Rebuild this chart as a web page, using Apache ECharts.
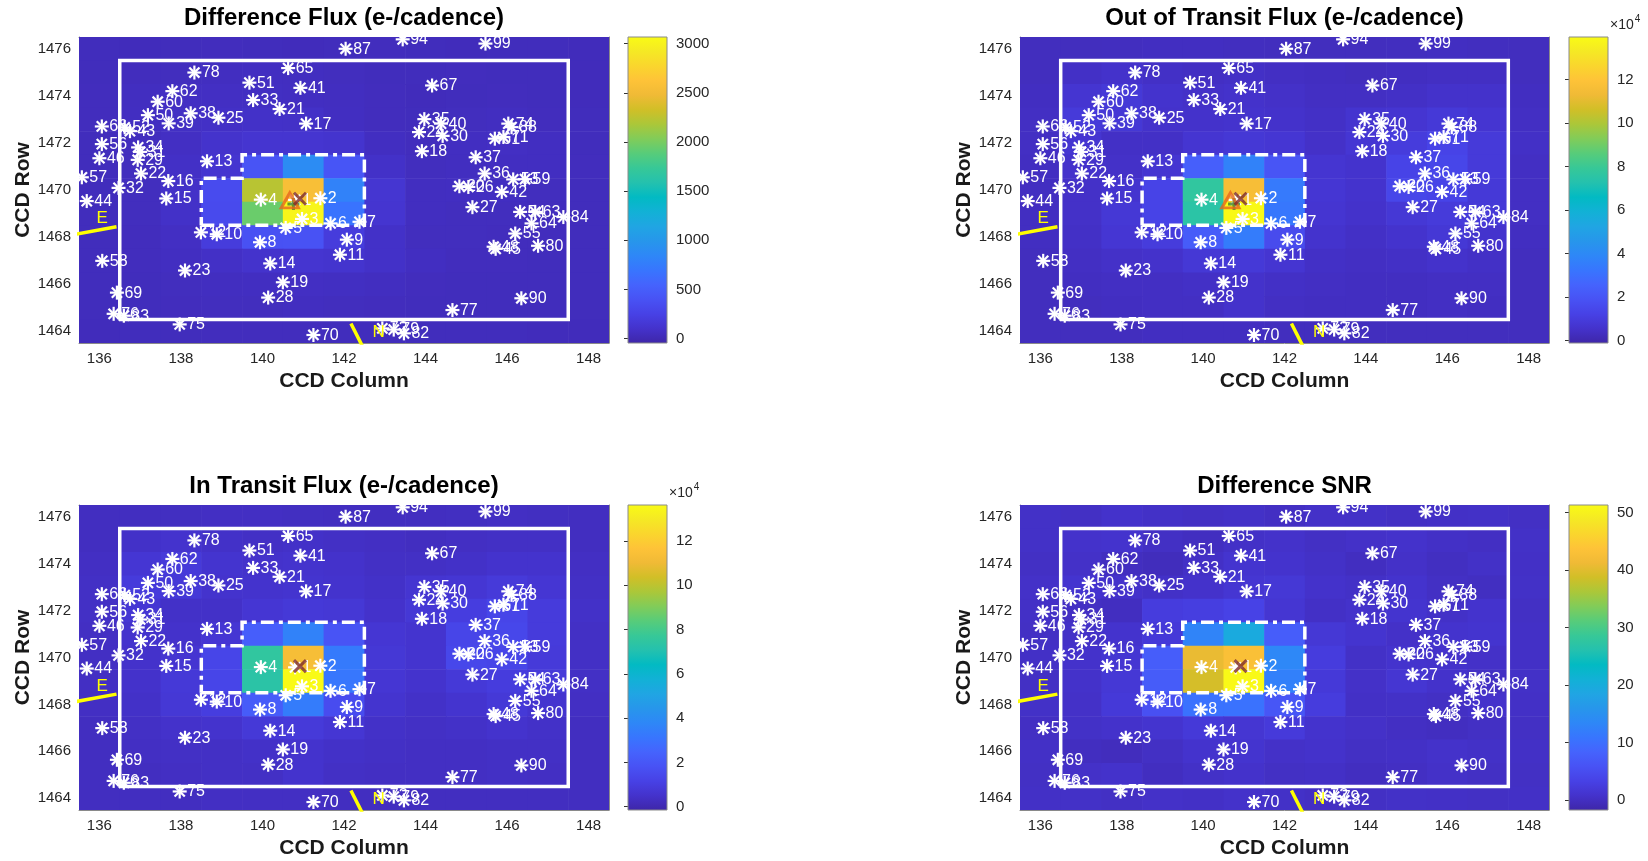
<!DOCTYPE html>
<html><head><meta charset="utf-8">
<script src="https://cdn.jsdelivr.net/npm/echarts@6/dist/echarts.min.js"></script>
<style>html,body{margin:0;padding:0;background:#fff}#c{width:1648px;height:861px}</style>
</head><body><div id="c"></div>
<script>
// ---------------- DATA ----------------
const colTicks = [136, 138, 140, 142, 144, 146, 148];
const rowTicks = [1464, 1466, 1468, 1470, 1472, 1474, 1476];
const pixelCols = [136,137,138,139,140,141,142,143,144,145,146,147,148];
const pixelRows = [1476,1475,1474,1473,1472,1471,1470,1469,1468,1467,1466,1465,1464];

// Difference flux (e-/cadence), rows top (1476) to bottom (1464)
const diffFlux = [
 [40,35,40,45,40,35,40,45,40,35,40,40,35],
 [40,45,50,55,60,55,50,40,40,45,40,40,35],
 [45,55,70,70,65,60,55,45,35,40,45,40,35],
 [45,60,75,80,90,85,60,45,40,50,55,45,40],
 [40,50,70,110,130,130,120,60,45,60,70,60,40],
 [40,50,80,130,420,890,430,90,50,55,60,60,45],
 [40,50,90,340,2230,2560,800,140,55,60,60,50,40],
 [40,50,90,330,1950,3020,680,130,55,50,50,45,40],
 [40,45,70,200,390,400,200,90,50,50,45,45,40],
 [40,45,60,80,110,130,120,90,60,45,45,40,40],
 [40,40,50,55,60,70,65,55,45,40,40,40,40],
 [40,40,45,50,50,55,50,45,40,40,40,40,40],
 [35,40,40,45,45,45,40,40,40,40,40,35,35]
];
// Out of transit flux (x1e4 e-/cadence)
const outFlux = [
 [.30,.30,.32,.35,.35,.32,.30,.30,.30,.32,.35,.32,.30],
 [.30,.45,.55,.45,.40,.45,.40,.35,.30,.35,.40,.40,.30],
 [.35,.70,.85,.60,.50,.55,.50,.40,.40,.45,.55,.55,.35],
 [.40,.90,.80,.55,.55,.60,.55,.45,.65,.70,.85,.70,.40],
 [.40,.70,.45,.45,.70,.80,.75,.50,.75,1.0,1.3,.90,.45],
 [.35,.55,.50,.70,2.4,3.7,2.0,.70,.60,1.3,1.4,.90,.40],
 [.35,.50,.65,1.3,7.7,11.6,3.4,.75,.60,1.4,1.3,.85,.40],
 [.35,.50,.80,1.3,7.5,13.9,3.3,.70,.55,.80,.95,.85,.40],
 [.35,.45,.75,1.0,2.3,3.5,1.6,.60,.45,.60,.80,.60,.35],
 [.30,.40,.50,.55,.80,.85,.70,.45,.40,.45,.55,.45,.30],
 [.30,.35,.40,.40,.45,.55,.45,.40,.35,.35,.40,.40,.30],
 [.30,.30,.35,.40,.40,.55,.40,.35,.35,.35,.40,.35,.30],
 [.30,.30,.30,.35,.35,.35,.30,.30,.30,.30,.30,.30,.30]
];
// In transit flux (x1e4 e-/cadence)
const inFlux = [
 [.30,.30,.32,.35,.35,.32,.30,.30,.30,.32,.35,.32,.30],
 [.30,.45,.55,.45,.40,.45,.40,.35,.30,.35,.40,.40,.30],
 [.35,.70,.85,.60,.50,.55,.50,.40,.40,.45,.55,.55,.35],
 [.40,.90,.80,.55,.55,.60,.55,.45,.65,.70,.85,.70,.40],
 [.40,.70,.45,.45,.70,.80,.75,.50,.75,1.0,1.3,.90,.45],
 [.35,.55,.50,.70,2.3,3.6,1.9,.70,.60,1.3,1.4,.90,.40],
 [.35,.50,.65,1.3,7.5,11.3,3.3,.75,.60,1.4,1.3,.85,.40],
 [.35,.50,.80,1.3,7.3,13.6,3.2,.70,.55,.80,.95,.85,.40],
 [.35,.45,.75,1.0,2.2,3.4,1.6,.60,.45,.60,.80,.60,.35],
 [.30,.40,.50,.55,.80,.85,.70,.45,.40,.45,.55,.45,.30],
 [.30,.35,.40,.40,.45,.55,.45,.40,.35,.35,.40,.40,.30],
 [.30,.30,.35,.40,.40,.55,.40,.35,.35,.35,.40,.35,.30],
 [.30,.30,.30,.35,.35,.35,.30,.30,.30,.30,.30,.30,.30]
];
// Difference SNR
const diffSnr = [
 [0.5,0.3,0.8,0.5,0.3,0.5,0.2,0.6,0.5,0.3,0.4,0.5,0.3],
 [0.5,0.8,1.0,0.3,0.0,0.5,0.7,0.3,0.6,0.8,0.4,0.2,0.5],
 [0.3,0.6,0.0,-0.3,0.4,1.2,1.0,0.5,0.0,0.6,0.1,0.5,0.4],
 [0.6,1.2,0.8,0.5,0.8,1.5,1.8,0.8,0.5,1.0,0.3,0.1,0.5],
 [0.4,0.2,0.0,2.5,2.8,3.5,1.5,0.4,0.8,1.2,0.5,1.0,0.3],
 [0.3,0.5,1.0,2.0,13.0,19.5,7.5,1.8,1.2,0.6,1.0,1.2,0.4],
 [0.4,0.8,1.5,7.5,40.7,43.0,13.5,2.5,0.5,1.0,0.8,0.6,0.4],
 [0.3,0.7,1.8,7.3,39.0,51.0,12.5,2.0,0.6,1.5,0.8,0.3,0.5],
 [0.5,0.6,2.0,5.5,10.5,10.5,6.5,2.5,0.4,0.5,0.3,0.8,0.4],
 [0.2,0.5,0.8,1.2,2.0,1.5,2.2,1.0,0.6,0.2,0.0,0.3,0.3],
 [0.4,0.0,-0.2,0.3,1.0,1.2,0.6,0.8,0.3,0.4,0.7,0.5,0.4],
 [0.3,0.6,0.8,0.0,0.5,0.8,0.3,0.4,0.0,0.2,0.6,0.3,0.3],
 [0.4,0.5,0.3,0.6,0.4,0.7,0.5,0.2,0.3,0.5,0.4,0.3,0.4]
];

const diffRange = [-45, 3068];
const outRange = [-0.12, 13.96];
const inRange = [-0.15, 13.63];
const snrRange = [-1.74, 51.3];
const diffCbTicks = [0, 500, 1000, 1500, 2000, 2500, 3000];
const fluxCbTicks = [0, 2, 4, 6, 8, 10, 12];
const snrCbTicks = [0, 10, 20, 30, 40, 50];

// Stars (column, row, label)
const starCols = [140.80,141.42,140.97,139.96,140.57,141.67,142.38,139.94,142.07,138.88,138.49,141.90,138.64,140.19,137.64,137.69,141.07,143.91,140.50,140.42,137.02,138.10,143.84,138.92,145.05,144.83,145.15,140.14,136.94,144.42,137.00,136.47,139.77,136.95,143.97,145.45,145.23,138.24,137.70,144.38,140.93,145.87,136.75,135.69,136.00,145.67,145.72,137.19,139.68,136.62,136.06,135.57,136.07,146.44,146.15,137.43,145.70,145.91,146.03,146.11,137.79,146.69,146.32,146.60,140.63,136.06,144.16,136.43,141.25,136.35,136.60,137.97,144.66,138.33,143.22,142.94,143.47,146.76,147.38,142.04,146.20,146.35,143.44,145.47];
const starRows = [1469.58,1469.65,1468.77,1469.59,1468.39,1468.58,1468.65,1467.78,1467.89,1468.12,1468.20,1467.25,1471.22,1466.88,1469.64,1470.38,1472.82,1471.65,1466.08,1473.44,1470.70,1466.58,1472.46,1473.07,1470.13,1470.16,1469.27,1465.43,1471.28,1472.30,1471.62,1470.09,1473.82,1471.81,1473.01,1470.70,1471.39,1473.26,1472.83,1472.82,1474.34,1469.92,1472.50,1469.53,1471.35,1467.59,1467.50,1473.18,1474.56,1472.66,1471.95,1470.54,1466.99,1470.46,1470.45,1473.75,1472.18,1472.25,1472.82,1472.67,1474.20,1469.07,1469.07,1468.58,1475.18,1472.70,1474.44,1465.64,1463.84,1464.74,1464.66,1464.29,1464.90,1474.99,1464.07,1464.12,1463.91,1467.63,1468.85,1476.00,1468.15,1465.40,1476.40,1476.22];
const starLabels = ['1','2','3','4','5','6','7','8','9','10','12','11','13','14','15','16','17','18','19','21','22','23','24','25','26','20','27','28','29','30','31','32','33','34','35','36','37','38','39','40','41','42','43','44','46','48','45','50','51','52','56','57','58','59','53','60','61','71','74','88','62','63','54','64','65','66','67','69','70','76','83','75','77','78','79','72','82','80','84','87','55','90','94','99'];

// Overlays (CCD column / row vertices)
const boxCols = [136.5,147.5,147.5,136.5,136.5];
const boxRows = [1464.5,1464.5,1475.5,1475.5,1464.5];
const apertureCols = [138.5,142.5,142.5,139.5,139.5,138.5,138.5];
const apertureRows = [1468.5,1468.5,1471.5,1471.5,1470.5,1470.5,1468.5];
const eastCols = [135.2,136.42];
const eastRows = [1468.05,1468.44];
const northCols = [142.17,142.50];
const northRows = [1464.33,1463.2];
const compassLabels = ['E','N'];
const compassLabelCols = [136.07,142.85];
const compassLabelRows = [1468.78,1463.95];
const centroidOot = [140.67,1469.56];   // triangle
const catalogPos = [140.92,1469.63];    // x
const centroidDiff = [140.76,1469.40];  // plus

const titles = ['Difference Flux (e-/cadence)','Out of Transit Flux (e-/cadence)','In Transit Flux (e-/cadence)','Difference SNR'];

// ---------------- STYLE / LAYOUT ----------------
const parula = ['#3e26a8','#4432cb','#4741e5','#4852f4','#4563fd','#3875fe','#2e87f7','#2796eb','#20a5e3','#12b1d6','#02bac3','#24c1ae','#37c897','#57cc7a','#81cc59','#abc739','#d1bf27','#f0ba36','#fec338','#fad62d','#f5e924','#f9fb15'];
const FONT = 'Liberation Sans';
const plain = v => String(v);
const panels = [
  {grid:[79,37,530,306], cb:[628,37,39,306], z:diffFlux, range:diffRange, cbTicks:diffCbTicks, exp:false, tri:true, plus:true},
  {grid:[1020,37,529,306], cb:[1569,37,39,306], z:outFlux, range:outRange, cbTicks:fluxCbTicks, exp:true, tri:true, plus:true},
  {grid:[79,505,530,305], cb:[628,505,39,305], z:inFlux, range:inRange, cbTicks:fluxCbTicks, exp:true, tri:false, plus:false},
  {grid:[1020,505,529,305], cb:[1569,505,39,305], z:diffSnr, range:snrRange, cbTicks:snrCbTicks, exp:false, tri:false, plus:false}
];

const grids = [], xAxes = [], yAxes = [], series = [], visualMaps = [], graphics = [];
const tickStyle = {color:'#333', width:1};
const lineAxis = {show:true, onZero:false, lineStyle:{color:'#8a8a8a', width:1}};

panels.forEach((p, pi) => {
  const [gl, gt, gw, gh] = p.grid;
  const gi = grids.length;
  grids.push({left:gl, top:gt, width:gw, height:gh, containLabel:false});
  const xi = xAxes.length, yi = yAxes.length;
  xAxes.push({gridIndex:gi, type:'value', min:135.5, max:148.5, position:'bottom', axisLine:lineAxis,
    splitLine:{show:false}, axisTick:{inside:true, length:5, customValues:colTicks, lineStyle:tickStyle},
    axisLabel:{customValues:colTicks, formatter:plain, color:'#262626', fontSize:15, fontFamily:FONT, margin:8},
    name:'CCD Column', nameLocation:'middle', nameGap:28,
    nameTextStyle:{fontWeight:'bold', fontSize:21, fontFamily:FONT, color:'#1a1a1a'}});
  xAxes.push({gridIndex:gi, type:'value', min:135.5, max:148.5, position:'top', axisLine:lineAxis,
    splitLine:{show:false}, axisTick:{inside:true, length:5, customValues:colTicks, lineStyle:tickStyle}, axisLabel:{show:false}});
  yAxes.push({gridIndex:gi, type:'value', min:1463.5, max:1476.5, position:'left', axisLine:lineAxis,
    splitLine:{show:false}, axisTick:{inside:true, length:5, customValues:rowTicks, lineStyle:tickStyle},
    axisLabel:{customValues:rowTicks, formatter:plain, color:'#262626', fontSize:15, fontFamily:FONT, margin:8},
    name:'CCD Row', nameLocation:'middle', nameGap:43, nameRotate:90,
    nameTextStyle:{fontWeight:'bold', fontSize:21, fontFamily:FONT, color:'#1a1a1a'}});
  yAxes.push({gridIndex:gi, type:'value', min:1463.5, max:1476.5, position:'right', axisLine:lineAxis,
    splitLine:{show:false}, axisTick:{inside:true, length:5, customValues:rowTicks, lineStyle:tickStyle}, axisLabel:{show:false}});

  // heat cells
  const cells = [];
  p.z.forEach((rowVals, i) => rowVals.forEach((v, j) => cells.push([pixelCols[j], pixelRows[i], v])));
  const heatIndex = series.length;
  series.push({type:'custom', xAxisIndex:xi, yAxisIndex:yi, data:cells, encode:{x:0, y:1}, clip:true, z:1,
    renderItem:(params, api) => {
      const c = api.value(0), r = api.value(1);
      const a = api.coord([c - 0.5, r + 0.5]);
      const b = api.coord([c + 0.5, r - 0.5]);
      return {type:'rect', shape:{x:a[0], y:a[1], width:b[0]-a[0]+0.6, height:b[1]-a[1]+0.6}, style:{fill:api.visual('color')}};
    }});
  visualMaps.push({type:'continuous', show:false, seriesIndex:heatIndex, dimension:2, min:p.range[0], max:p.range[1], inRange:{color:parula}});

  // stars
  series.push({type:'custom', xAxisIndex:xi, yAxisIndex:yi, data:starCols.map((c, k) => [c, starRows[k]]), encode:{x:0, y:1}, clip:true, z:3,
    renderItem:(params, api) => {
      const q = api.coord([api.value(0), api.value(1)]);
      const r = 7, d = 5.1;
      const st = {stroke:'#ffffff', lineWidth:2.2};
      return {type:'group', children:[
        {type:'line', shape:{x1:q[0]-r, y1:q[1], x2:q[0]+r, y2:q[1]}, style:st},
        {type:'line', shape:{x1:q[0], y1:q[1]-r, x2:q[0], y2:q[1]+r}, style:st},
        {type:'line', shape:{x1:q[0]-d, y1:q[1]-d, x2:q[0]+d, y2:q[1]+d}, style:st},
        {type:'line', shape:{x1:q[0]-d, y1:q[1]+d, x2:q[0]+d, y2:q[1]-d}, style:st},
        {type:'text', x:q[0]+r+0.5, y:q[1]+0.5, style:{text:starLabels[params.dataIndex], fill:'#ffffff', fontSize:16, fontFamily:FONT, align:'left', verticalAlign:'middle'}}
      ]};
    }});

  // white box
  series.push({type:'line', xAxisIndex:xi, yAxisIndex:yi, data:boxCols.map((c, k) => [c, boxRows[k]]), symbol:'none', clip:true, z:4,
    lineStyle:{color:'#ffffff', width:3.5, join:'miter'}, silent:true});
  // aperture outline (dash-dot)
  series.push({type:'line', xAxisIndex:xi, yAxisIndex:yi, data:apertureCols.map((c, k) => [c, apertureRows[k]]), symbol:'none', clip:true, z:4,
    lineStyle:{color:'#ffffff', width:3.5, type:[13,5,4,5], cap:'butt', join:'miter'}, silent:true});
  // compass
  series.push({type:'line', xAxisIndex:xi, yAxisIndex:yi, data:eastCols.map((c, k) => [c, eastRows[k]]), symbol:'none', clip:true, z:4,
    lineStyle:{color:'#ffff00', width:3.5}, silent:true});
  series.push({type:'line', xAxisIndex:xi, yAxisIndex:yi, data:northCols.map((c, k) => [c, northRows[k]]), symbol:'none', clip:true, z:4,
    lineStyle:{color:'#ffff00', width:3.5}, silent:true});
  series.push({type:'custom', xAxisIndex:xi, yAxisIndex:yi, data:compassLabelCols.map((c, k) => [c, compassLabelRows[k]]), encode:{x:0, y:1}, clip:true, z:4,
    renderItem:(params, api) => {
      const q = api.coord([api.value(0), api.value(1)]);
      return {type:'text', x:q[0], y:q[1], style:{text:compassLabels[params.dataIndex], fill:'#ffff00', fontSize:17, fontFamily:FONT, align:'center', verticalAlign:'middle'}};
    }});
  // markers
  if (p.plus) series.push({type:'scatter', xAxisIndex:xi, yAxisIndex:yi, data:[centroidDiff], symbol:'path://M5,0L5,10M0,5L10,5', symbolSize:12, z:5,
    itemStyle:{color:'none', borderColor:'#3f7f2a', borderWidth:3}, silent:true});
  if (p.tri) series.push({type:'scatter', xAxisIndex:xi, yAxisIndex:yi, data:[centroidOot], symbol:'triangle', symbolSize:[17,15], z:6,
    itemStyle:{color:'rgba(0,0,0,0)', borderColor:'#e6661e', borderWidth:3}, silent:true});
  series.push({type:'scatter', xAxisIndex:xi, yAxisIndex:yi, data:[catalogPos], symbol:'path://M0,0L10,10M10,0L0,10', symbolSize:12, z:7,
    itemStyle:{color:'none', borderColor:'#7d2b2b', borderWidth:3}, silent:true});

  // colorbar
  const [cl, ct, cw, ch] = p.cb;
  const cgi = grids.length;
  grids.push({left:cl, top:ct, width:cw, height:ch, containLabel:false});
  const cxi = xAxes.length, cyi = yAxes.length;
  xAxes.push({gridIndex:cgi, type:'value', min:0, max:1, show:false});
  yAxes.push({gridIndex:cgi, type:'value', min:p.range[0], max:p.range[1], position:'right',
    axisLine:{show:false}, splitLine:{show:false},
    axisTick:{inside:true, length:4, customValues:p.cbTicks, lineStyle:tickStyle},
    axisLabel:{customValues:p.cbTicks, formatter:plain, color:'#262626', fontSize:15, fontFamily:FONT, margin:9}});
  const rng = p.range;
  series.push({type:'custom', xAxisIndex:cxi, yAxisIndex:cyi, data:[[0.5, (rng[0]+rng[1])/2]], encode:{x:0, y:1}, z:1,
    renderItem:(params, api) => {
      const a = api.coord([0, rng[1]]);
      const b = api.coord([1, rng[0]]);
      const stops = parula.map((col, k) => ({offset:k/(parula.length-1), color:col}));
      return {type:'rect', shape:{x:a[0], y:a[1], width:b[0]-a[0], height:b[1]-a[1]},
        style:{fill:new echarts.graphic.LinearGradient(0, 1, 0, 0, stops), stroke:'#8a8a8a', lineWidth:1}};
    }});

  // title
  graphics.push({type:'text', x:gl + gw/2, y:gt - 19, style:{text:titles[pi], fontSize:24, fontWeight:'bold', fontFamily:FONT, fill:'#000', align:'center', verticalAlign:'middle'}});
  if (p.exp) graphics.push({type:'text', x:cl + cw + 2, y:gt - 14, style:{text:'{a|×10}{b|4}', fontFamily:FONT, fill:'#262626', align:'left', verticalAlign:'middle',
    rich:{a:{fontSize:14, fontFamily:FONT, fill:'#262626', verticalAlign:'bottom'}, b:{fontSize:10, fontFamily:FONT, fill:'#262626', verticalAlign:'top', padding:[0,0,8,1]}}}});
});

const chart = echarts.init(document.getElementById('c'), null, {renderer:'canvas'});
chart.setOption({
  animation:false,
  backgroundColor:'#ffffff',
  grid:grids, xAxis:xAxes, yAxis:yAxes, visualMap:visualMaps, series:series, graphic:graphics
});
</script></body></html>
